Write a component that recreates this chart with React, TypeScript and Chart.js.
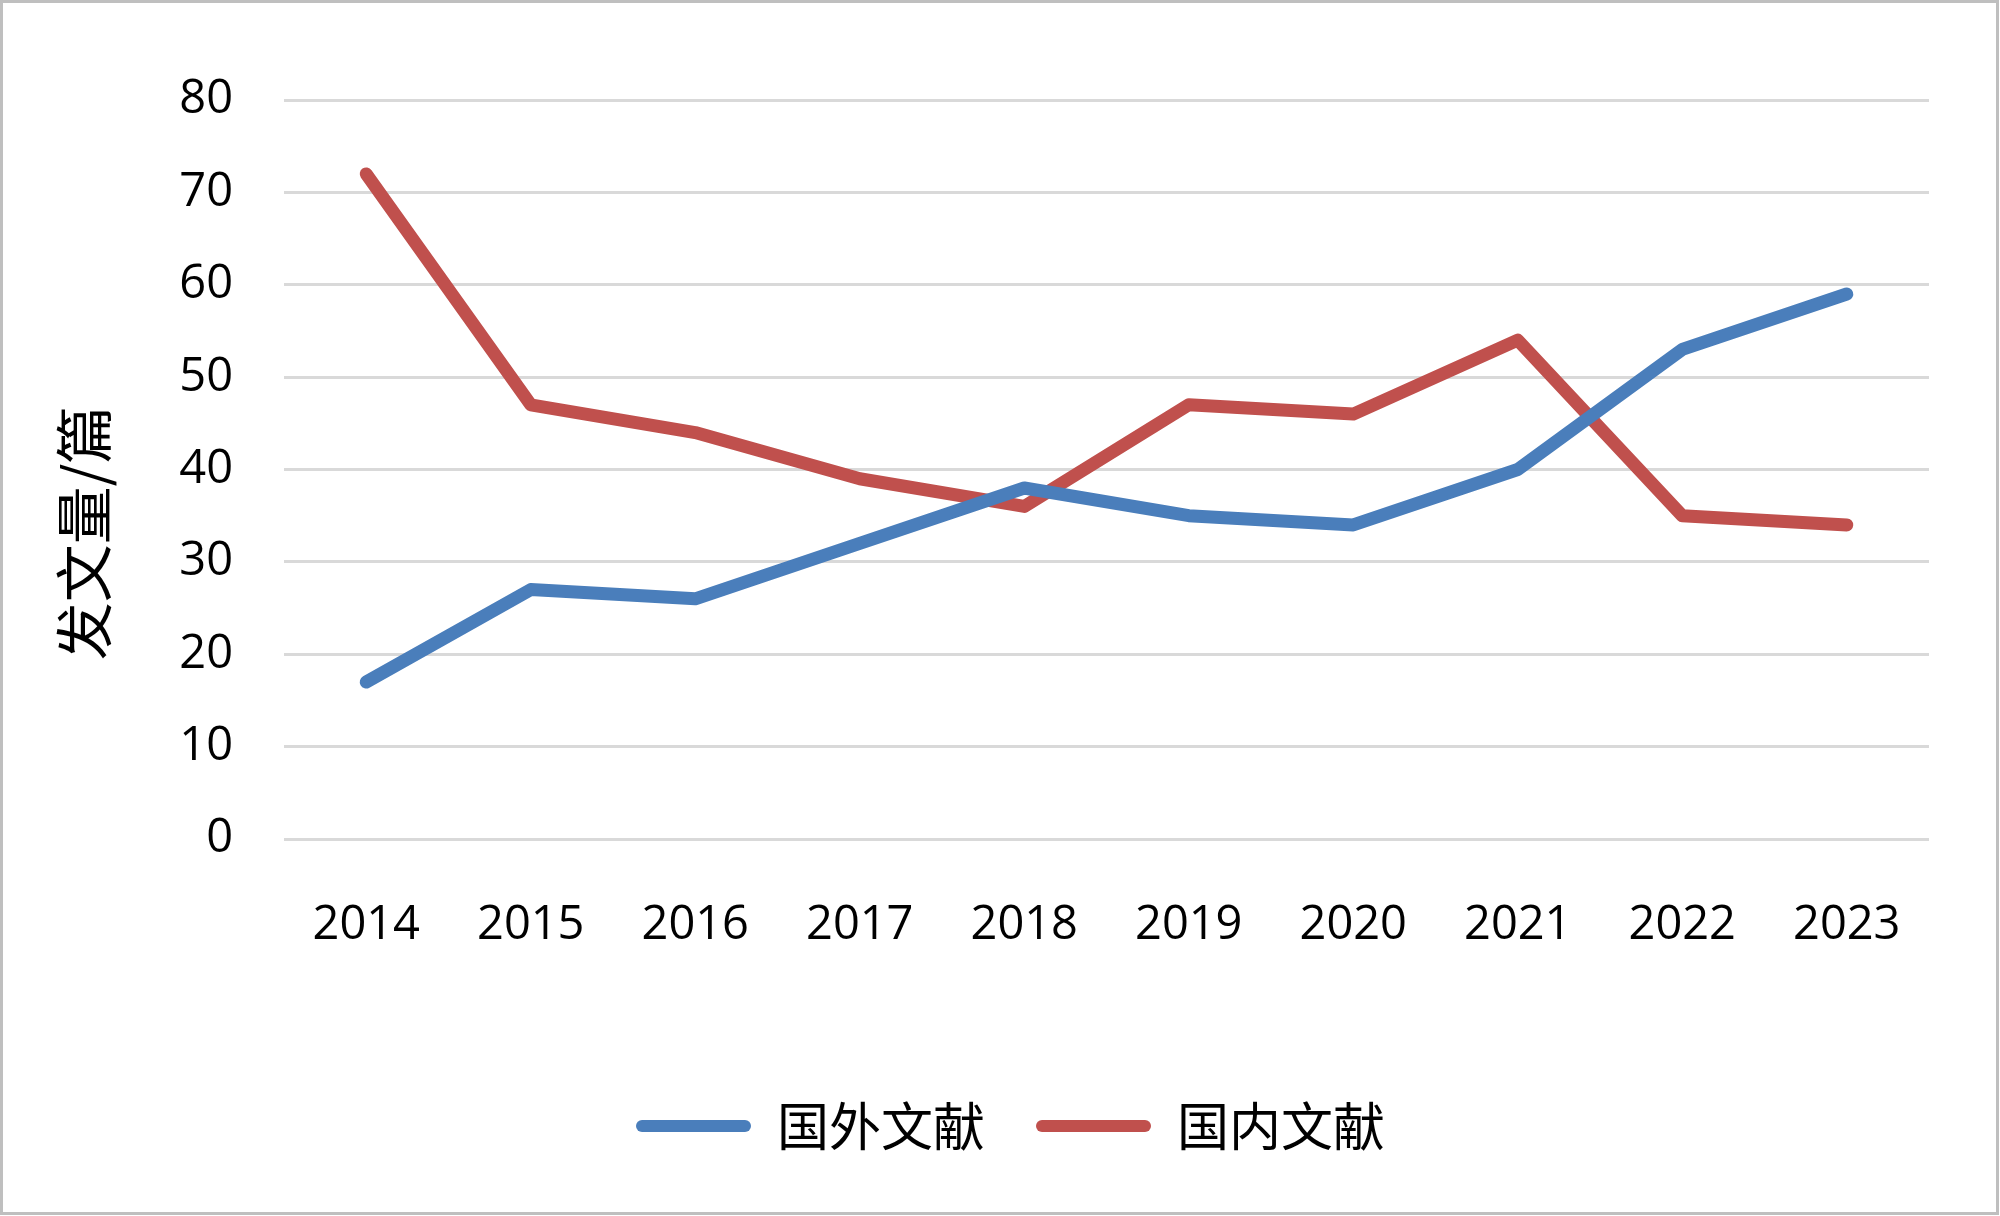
import React, { useEffect, useRef } from 'react';
import { Chart, registerables } from 'chart.js';

Chart.register(...registerables);

const categories = ['2014', '2015', '2016', '2017', '2018', '2019', '2020', '2021', '2022', '2023'];
const foreignSeries = [17, 27, 26, 32, 38, 35, 34, 40, 53, 59];
const domesticSeries = [72, 47, 44, 39, 36, 47, 46, 54, 35, 34];
const seriesNames = ['国外文献', '国内文献'];
const seriesColors = ['#4a7ebb', '#c0504d'];
const yTitle = '发文量/篇';
const yMin = 0;
const yMax = 80;
const yStep = 10;

const frameAndTitlePlugin = {
  id: 'frameAndTitle',
  beforeDraw(chart: any) {
    const ctx = chart.ctx;
    ctx.save();
    ctx.fillStyle = '#ffffff';
    ctx.fillRect(0, 0, chart.width, chart.height);
    ctx.restore();
  },
  afterLayout(chart: any) {
    const lg = chart.legend;
    if (lg) {
      lg.left += 46;
      lg.right += 46;
    }
  },
  afterDraw(chart: any) {
    const ctx = chart.ctx;
    ctx.save();
    ctx.strokeStyle = '#bfbfbf';
    ctx.lineWidth = 3;
    ctx.strokeRect(1.5, 1.5, chart.width - 4, chart.height - 4);
    ctx.translate(84, 533);
    ctx.rotate(-Math.PI / 2);
    ctx.font = "58px 'Noto Sans CJK SC', sans-serif";
    ctx.fillStyle = '#000000';
    ctx.textAlign = 'center';
    ctx.textBaseline = 'middle';
    ctx.fillText(yTitle, 0, 0);
    ctx.restore();
  },
};

export default function App() {
  const canvasRef = useRef<HTMLCanvasElement | null>(null);

  useEffect(() => {
    if (!canvasRef.current) return;
    const tickFont = { family: "'Open Sans', sans-serif", size: 47 };
    const chart = new Chart(canvasRef.current, {
      type: 'line',
      data: {
        labels: categories,
        datasets: [
          {
            label: seriesNames[0],
            data: foreignSeries,
            borderColor: seriesColors[0],
            backgroundColor: seriesColors[0],
            borderWidth: 13,
            pointRadius: 0,
            borderCapStyle: 'round',
            borderJoinStyle: 'round',
            tension: 0,
          },
          {
            label: seriesNames[1],
            data: domesticSeries,
            borderColor: seriesColors[1],
            backgroundColor: seriesColors[1],
            borderWidth: 13,
            pointRadius: 0,
            borderCapStyle: 'round',
            borderJoinStyle: 'round',
            tension: 0,
          },
        ],
      },
      options: {
        animation: false,
        responsive: false,
        devicePixelRatio: 1,
        layout: { padding: { top: 100, left: 0, right: 71, bottom: 54 } },
        plugins: {
          tooltip: { enabled: false },
          legend: {
            display: true,
            position: 'bottom',
            labels: {
              boxWidth: 115,
              boxHeight: 12,
              padding: 51,
              color: '#000000',
              font: { family: "'Noto Sans CJK SC', sans-serif", size: 52 },
              generateLabels: (c: any) => {
                const items = (Chart as any).defaults.plugins.legend.labels.generateLabels(c);
                return items.map((it: any) => ({
                  ...it,
                  fillStyle: it.strokeStyle,
                  lineWidth: 0,
                  borderRadius: 6,
                }));
              },
            },
          },
        },
        scales: {
          x: {
            type: 'category',
            offset: true,
            grid: { display: false, drawTicks: false },
            border: { display: false },
            ticks: { color: '#000000', font: tickFont, padding: 58, maxRotation: 0 },
            afterFit: (scale: any) => {
              scale.height = 210;
            },
          },
          y: {
            min: yMin,
            max: yMax,
            grid: { color: '#d9d9d9', lineWidth: 3, drawTicks: false },
            border: { display: false },
            ticks: { stepSize: yStep, color: '#000000', font: tickFont, padding: 51 },
            afterFit: (scale: any) => {
              scale.width = 284;
            },
          },
        },
      },
      plugins: [frameAndTitlePlugin],
    });
    return () => chart.destroy();
  }, []);

  return (
    <div style={{ position: 'fixed', left: 0, top: 0, width: 2000, height: 1216, background: '#ffffff' }}>
      <canvas ref={canvasRef} width={2000} height={1216} style={{ display: 'block' }} />
    </div>
  );
}
